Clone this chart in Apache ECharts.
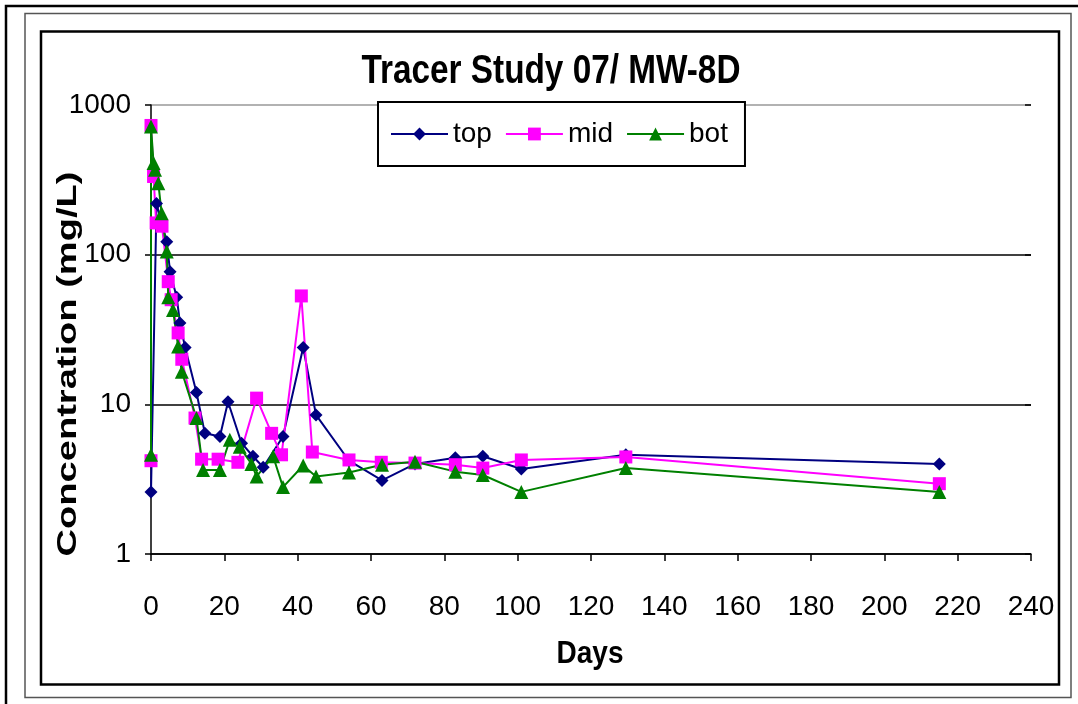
<!DOCTYPE html>
<html>
<head>
<meta charset="utf-8">
<script src="https://cdn.jsdelivr.net/npm/echarts@6/dist/echarts.min.js"></script>
<style>
html,body{margin:0;padding:0;background:#fff;}
#chart{width:1078px;height:704px;}
</style>
</head>
<body>
<div id="chart"></div>
<script>
const titleText = 'Tracer Study 07/ MW-8D';
const xTitle = 'Days';
const yTitle = 'Concentration (mg/L)';
const xTicks = [0, 20, 40, 60, 80, 100, 120, 140, 160, 180, 200, 220, 240];
const yTicks = [1, 10, 100, 1000];

const topDays = [0, 1.5, 4.3, 5.2, 7.0, 7.9, 9.3, 12.4, 14.7, 18.8, 21, 24.7, 27.8, 30.6, 36, 41.5, 45, 54, 63, 72, 83, 90.5, 101, 129.5, 215];
const topVals = [2.6, 220, 122, 77, 52, 35, 24, 12, 6.4, 6.1, 10.4, 5.5, 4.5, 3.8, 6.1, 24, 8.5, 4.2, 3.1, 4.0, 4.4, 4.5, 3.7, 4.6, 4.0];

const midDays = [0, 0, 0.7, 1.4, 3, 4.7, 5.5, 7.4, 8.4, 12, 13.8, 18.3, 23.7, 28.8, 32.9, 35.6, 41, 44, 54, 62.8, 72, 83, 90.5, 101, 129.5, 215];
const midVals = [4.2, 730, 333, 163, 155, 66, 50, 30, 20, 8.1, 4.3, 4.3, 4.1, 11, 6.4, 4.6, 53, 4.8, 4.25, 4.1, 4.05, 3.95, 3.75, 4.25, 4.45, 2.95];

const botDays = [0, 0, 0.7, 1.1, 2, 2.9, 4.3, 4.7, 6, 7.4, 8.4, 12.4, 14.2, 18.8, 21.5, 24.2, 27.4, 28.8, 33.3, 36, 41.5, 45, 54, 63, 72, 83, 90.5, 101, 129.5, 215];
const botVals = [4.6, 718, 409, 369, 300, 189, 105, 52, 42.7, 24.3, 16.5, 8.1, 3.64, 3.64, 5.8, 5.2, 4.0, 3.3, 4.5, 2.8, 3.9, 3.3, 3.5, 3.95, 4.14, 3.55, 3.37, 2.6, 3.75, 2.6];

function pairs(d, v) { return d.map((x, i) => [x, v[i]]); }

const chart = echarts.init(document.getElementById('chart'), null, {renderer: 'canvas'});
const FONT = 'Liberation Sans, Arial, sans-serif';

const yAxisBase = {
  type: 'log', logBase: 10, min: 1, max: 1000,
  axisLine: {show: true, lineStyle: {color: '#000', width: 1.5}},
  axisTick: {show: true, length: 6, lineStyle: {color: '#000', width: 1.5}},
  axisLabel: {show: true, fontSize: 28, fontFamily: FONT, color: '#000', margin: 20,
    formatter: v => (yTicks.indexOf(Math.round(v)) >= 0 ? String(Math.round(v)) : '')},
  splitLine: {show: true, lineStyle: {color: ['#000', '#000', '#000', '#999'], width: 1.5}},
  minorTick: {show: false}
};

chart.setOption({
  animation: false,
  backgroundColor: '#fff',
  grid: {left: 151, right: 47, top: 105, bottom: 150, containLabel: false},
  legend: {
    left: 378, top: 102,
    padding: [18, 17, 18, 12],
    borderColor: '#000', borderWidth: 2,
    backgroundColor: '#fff',
    itemWidth: 57, itemHeight: 16, itemGap: 13,
    textStyle: {fontSize: 28, fontFamily: FONT, color: '#000', padding: [0, 0, 0, 0]},
    data: ['top', 'mid', 'bot']
  },
  xAxis: {
    type: 'value', min: 0, max: 240, interval: 20,
    axisLine: {show: true, lineStyle: {color: '#000', width: 1.5}},
    axisTick: {show: true, length: 7, lineStyle: {color: '#000', width: 1.5}},
    axisLabel: {fontSize: 28, fontFamily: FONT, color: '#000', margin: 39,
      formatter: v => (xTicks.indexOf(v) >= 0 ? String(v) : '')},
    splitLine: {show: false}
  },
  yAxis: [
    yAxisBase,
    Object.assign({}, yAxisBase, {
      axisLine: {show: false},
      axisTick: {show: true, inside: true, length: 6, lineStyle: {color: '#000', width: 1.5}},
      axisLabel: {show: false},
      splitLine: {show: false}
    })
  ],
  series: [
    {name: 'top', type: 'line', data: pairs(topDays, topVals), symbol: 'diamond', symbolSize: 13,
      itemStyle: {color: '#000080'}, lineStyle: {color: '#000080', width: 2}},
    {name: 'mid', type: 'line', data: pairs(midDays, midVals), symbol: 'rect', symbolSize: 13,
      itemStyle: {color: '#ff00ff'}, lineStyle: {color: '#ff00ff', width: 2}},
    {name: 'bot', type: 'line', data: pairs(botDays, botVals), symbol: 'triangle', symbolSize: 14,
      itemStyle: {color: '#008000'}, lineStyle: {color: '#008000', width: 2}}
  ],
  graphic: [
    {type: 'rect', z: -10, shape: {x: 6, y: 6, width: 1100, height: 720}, style: {fill: 'none', stroke: '#000', lineWidth: 2.5}},
    {type: 'rect', z: -10, shape: {x: 25, y: 13.5, width: 1046, height: 684}, style: {fill: 'none', stroke: '#555', lineWidth: 1.5}},
    {type: 'rect', z: -10, shape: {x: 41, y: 31.5, width: 1018, height: 653}, style: {fill: 'none', stroke: '#000', lineWidth: 2.5}},
    {type: 'text', x: 551, y: 72, scaleY: 1.18, scaleX: 0.98, style: {text: titleText, fontSize: 34, fontWeight: 'bold', fontFamily: FONT, fill: '#000', align: 'center', verticalAlign: 'middle'}},
    {type: 'text', x: 590, y: 655, scaleY: 1.1, style: {text: xTitle, fontSize: 28, fontWeight: 'bold', fontFamily: FONT, fill: '#000', align: 'center', verticalAlign: 'middle'}},
    {type: 'text', x: 68, y: 364, rotation: Math.PI / 2, scaleX: 1.36, style: {text: yTitle, fontSize: 28, fontWeight: 'bold', fontFamily: FONT, fill: '#000', align: 'center', verticalAlign: 'middle'}}
  ]
});
</script>
</body>
</html>
